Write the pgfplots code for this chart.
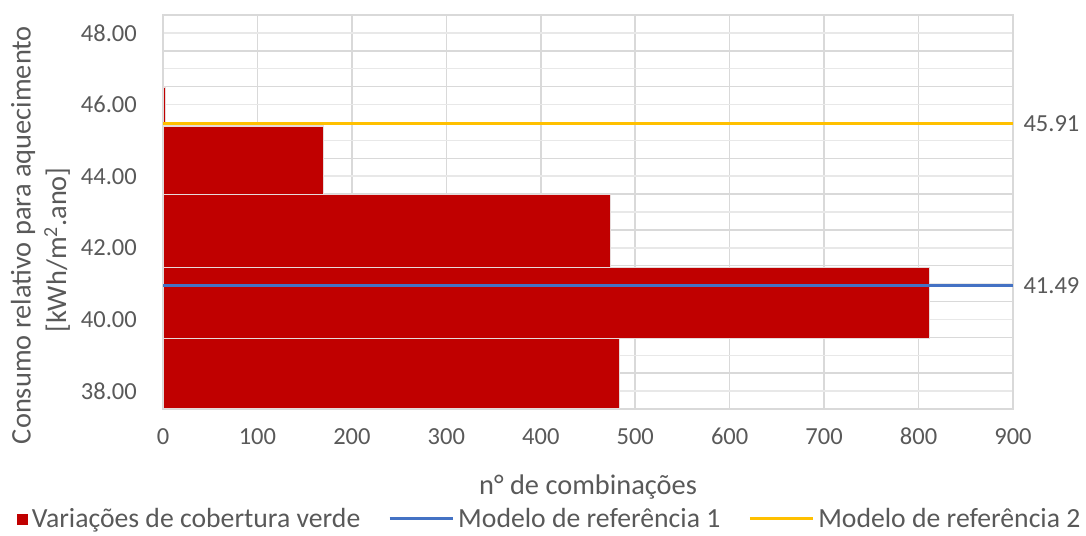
\documentclass[border=0pt]{standalone}
\usepackage{fontspec}
\setmainfont{Carlito}
\usepackage{pgfplots}
\pgfplotsset{compat=1.18}

\definecolor{barred}{HTML}{C00000}
\definecolor{refblue}{HTML}{4472C4}
\definecolor{refgold}{HTML}{FFC000}
\definecolor{txtgray}{HTML}{595959}
\definecolor{gridmaj}{HTML}{D9D9D9}
\definecolor{gridmin}{HTML}{E8E8E8}
\definecolor{barline}{HTML}{E6DADA}

\newcommand{\ticksize}{\fontsize{24.6}{29}\selectfont}
\newcommand{\titlesize}{\fontsize{28.5}{33}\selectfont}
\newcommand{\legendsize}{\fontsize{27.8}{32}\selectfont}

\tikzset{endlabel/.style={pos=1, anchor=west, xshift=9bp, inner sep=0pt, font=\ticksize, text=txtgray}}

\pgfplotsset{
  plotframe/.style={
    at={(163bp,127bp)}, anchor=south west,
    scale only axis, width=850bp, height=394bp,
    xmin=0, xmax=900,
  },
  reflegend/.style={legend image code/.code={\draw[##1] (0bp,0bp) -- (63bp,0bp);}},
  barlegend/.style={legend image code/.code={\fill[barred] (0bp,-5bp) rectangle (10bp,5bp);}},
}

\begin{document}
\begin{tikzpicture}[text=txtgray]
\useasboundingbox (0,0) rectangle (1086bp,536bp);

% histogram: number of combinations per heating-consumption class
\begin{axis}[
  plotframe,
  ymin=37.5, ymax=48.5,
  axis line style={gridmaj, line width=1.5bp},
  major tick length=0pt, minor tick length=0pt,
  xtick={0,100,...,900},
  ytick={38,40,...,48},
  minor ytick={38,39,...,48},
  extra y ticks={38.5,39.5,...,47.5},
  extra y tick labels={},
  extra y tick style={grid=major},
  xmajorgrids, ymajorgrids=false, yminorgrids,
  major grid style={gridmaj, line width=1.5bp},
  minor grid style={gridmin, line width=1.5bp},
  tick label style={font=\ticksize, text=txtgray},
  xticklabel style={inner sep=0pt, yshift=-19bp},
  yticklabel style={inner sep=0pt, xshift=-26bp,
    /pgf/number format/fixed, /pgf/number format/fixed zerofill,
    /pgf/number format/precision=2},
  /pgf/number format/assume math mode=true,
  xlabel={n° de combinações},
  xlabel style={font=\titlesize, text=txtgray, at={(axis description cs:0.5,0)},
    anchor=center, yshift=-78bp, inner sep=0pt},
]
\addplot[xbar interval, fill=barred, draw=barline, line width=1.2bp]
  coordinates {(483,37.5) (812,39.47) (474,41.46) (170,43.49) (3,45.40) (3,46.49)};
\end{axis}

% reference models, on their own vertical scale
\begin{axis}[
  plotframe,
  ymin=38.115, ymax=48.865,
  hide axis, clip=false,
  legend columns=3,
  legend style={draw=none, fill=none, font=\legendsize, text=txtgray,
    at={(0.454,-0.279)}, anchor=center, inner sep=0pt,
    nodes={inner sep=0pt},
    /tikz/every odd column/.append style={column sep=4bp},
    /tikz/every even column/.append style={column sep=28bp}},
]
\addlegendimage{barlegend}
\addlegendentry{Variações de cobertura verde}
\addplot[refblue, line width=3bp, reflegend]
  coordinates {(0,41.49) (900,41.49)} node[endlabel] {41.49};
\addlegendentry{Modelo de referência 1}
\addplot[refgold, line width=3bp, reflegend]
  coordinates {(0,45.91) (900,45.91)} node[endlabel] {45.91};
\addlegendentry{Modelo de referência 2}
\end{axis}

\node[rotate=90, font=\titlesize, text=txtgray, inner sep=0pt] at (23bp,301bp)
  {Consumo relativo para aquecimento};
\node[rotate=90, font=\titlesize, text=txtgray, inner sep=0pt] at (57bp,286bp)
  {[kWh/m\textsuperscript{2}.ano]};
\end{tikzpicture}
\end{document}
